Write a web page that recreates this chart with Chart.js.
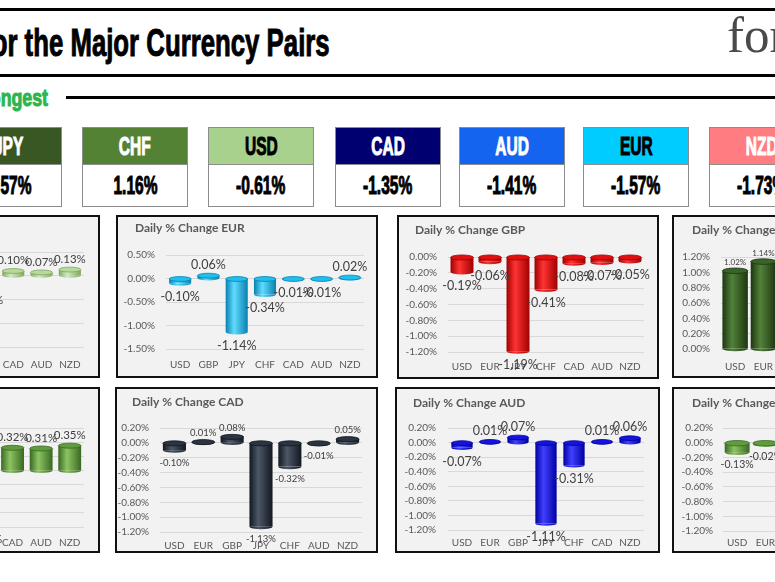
<!DOCTYPE html>
<html><head><meta charset="utf-8">
<script src="https://cdn.jsdelivr.net/npm/chart.js@4.4.1/dist/chart.umd.min.js"></script>
<style>
html,body{margin:0;padding:0;background:#fff;}
#page{position:relative;width:775px;height:582px;overflow:hidden;background:#fff;}
.abs{position:absolute;white-space:nowrap;}
.cond{font-family:"Liberation Sans",Arial,sans-serif;font-weight:bold;white-space:nowrap;-webkit-text-stroke:1px currentColor;}
.panel{position:absolute;box-sizing:border-box;border:2px solid #111;background:#f2f2f2;}
.panel canvas{position:absolute;left:0;top:0;}
.box{position:absolute;width:106px;}
.bh{box-sizing:border-box;height:38px;border:1px solid #8c8c8c;display:flex;align-items:center;justify-content:center;}
.bv{box-sizing:border-box;height:42px;border:1px solid #8c8c8c;border-top:none;background:#fff;display:flex;align-items:center;justify-content:center;color:#000;}
.sq{display:inline-block;transform:scaleX(0.62);font-size:25px;line-height:25px;}
</style></head>
<body><div id="page"></div>
<script>
// ---------- DATA ----------
const rankCurrencies = ['JPY','CHF','USD','CAD','AUD','EUR','NZD'];
const rankChanges = [1.57, 1.16, -0.61, -1.35, -1.41, -1.57, -1.73];

const usdPairs = ['EUR','GBP','JPY','CHF','CAD','AUD','NZD'];
const usdChange = [0.10, 0.19, -1.02, -0.24, 0.10, 0.07, 0.13];
const eurPairs = ['USD','GBP','JPY','CHF','CAD','AUD','NZD'];
const eurChange = [-0.10, 0.06, -1.14, -0.34, -0.01, -0.01, 0.02];
const gbpPairs = ['USD','EUR','JPY','CHF','CAD','AUD','NZD'];
const gbpChange = [-0.19, -0.06, -1.19, -0.41, -0.08, -0.07, -0.05];
const jpyPairs = ['USD','EUR','GBP','CHF','CAD','AUD','NZD'];
const jpyChange = [1.02, 1.14, 1.19, 0.78, 1.13, 1.11, 1.15];
const chfPairs = ['USD','EUR','GBP','JPY','CAD','AUD','NZD'];
const chfChange = [0.24, 0.34, 0.41, -0.78, 0.32, 0.31, 0.35];
const cadPairs = ['USD','EUR','GBP','JPY','CHF','AUD','NZD'];
const cadChange = [-0.10, 0.01, 0.08, -1.13, -0.32, -0.01, 0.05];
const audPairs = ['USD','EUR','GBP','JPY','CHF','CAD','NZD'];
const audChange = [-0.07, 0.01, 0.07, -1.11, -0.31, 0.01, 0.06];
const nzdPairs = ['USD','EUR','GBP','JPY','CHF','CAD','AUD'];
const nzdChange = [-0.13, -0.02, 0.05, -1.15, -0.35, -0.05, -0.06];

// y axis [min, max, step]
const usdAxis = [-1.5, 0.5, 0.5];
const eurAxis = [-1.5, 0.5, 0.5];
const gbpAxis = [-1.2, 0, 0.2];
const jpyAxis = [0, 1.2, 0.2];
const chfAxis = [-0.8, 0.6, 0.2];
const cadAxis = [-1.2, 0.2, 0.2];
const audAxis = [-1.2, 0.2, 0.2];
const nzdAxis = [-1.2, 0.2, 0.2];

// ---------- STYLES / LAYOUT ----------
const page = document.getElementById('page');
function addDiv(cls, css, html){const d=document.createElement('div');d.className=cls;Object.assign(d.style,css);if(html!==undefined)d.innerHTML=html;page.appendChild(d);return d;}

// header lines
addDiv('abs',{left:'0px',top:'8px',width:'775px',height:'3px',background:'#000'});
addDiv('abs',{left:'0px',top:'74px',width:'775px',height:'3px',background:'#000'});
addDiv('abs',{left:'66px',top:'96px',width:'709px',height:'3px',background:'#000'});

// title
const titleFull = 'Daily % Change for the Major Currency Pairs';
const titleVisible = 'or the Major Currency Pairs';
const mctx = document.createElement('canvas').getContext('2d');
mctx.font = 'bold 38px "Liberation Sans"';
const wVis = mctx.measureText(titleVisible).width, wFull = mctx.measureText(titleFull).width;
addDiv('abs cond',{top:'24px',fontSize:'38px',lineHeight:'38px',color:'#000',left:(330-wFull)+'px',width:wFull+'px',transformOrigin:'right center',transform:'scaleX('+(338/wVis)+')'}, titleFull);

// strongest label
mctx.font = 'bold 24px "Liberation Sans"';
const wS = mctx.measureText('Strongest').width;
addDiv('abs cond',{top:'86px',fontSize:'24px',lineHeight:'24px',color:'#2bb54e',left:(48-wS)+'px',width:wS+'px',transformOrigin:'right center',transform:'scaleX(0.74)'},'Strongest');

// logo
addDiv('abs',{left:'727px',top:'6px',fontFamily:'"Liberation Serif",serif',fontSize:'51px',lineHeight:'58px',color:'#4a4a4a'},'forexlive');

// rank boxes
const boxLeft = [-44, 82, 208, 335, 459, 583, 709];
const boxFill = ['#385723','#548235','#a9d18e','#000070','#1464f0','#00ccff','#ff7c80'];
const boxText = ['#fff','#fff','#000','#fff','#fff','#000','#fff'];
rankCurrencies.forEach((c,i)=>{
  const b = addDiv('box',{left:boxLeft[i]+'px',top:'127px'});
  b.innerHTML = '<div class="bh" style="background:'+boxFill[i]+';color:'+boxText[i]+'"><span class="sq cond">'+c+'</span></div>'+
                '<div class="bv"><span class="sq cond">'+rankChanges[i].toFixed(2)+'%</span></div>';
});

// bar colour schemes
const schemes = {
  lightgreen:{dark:'#7ea65f',light:'#d2eac0',top:'#b7d99d'},
  cyan:{dark:'#0880b0',light:'#5fdcff',top:'#1ec0ee'},
  red:{dark:'#a00000',light:'#ff3333',top:'#e01010'},
  darkgreen:{dark:'#1d3610',light:'#52813a',top:'#3a6327'},
  green:{dark:'#3a6822',light:'#8cc462',top:'#5f9c3d'},
  slate:{dark:'#121821',light:'#4d5766',top:'#2b3440'},
  blue:{dark:'#0000a0',light:'#4040ff',top:'#1414dc'}
};

const panels = [
 {title:'Daily % Change USD',labels:usdPairs,values:usdChange,axis:usdAxis,box:[-162,215,262,163],area:[-114,84,252,347],titleAt:[-143,229],yLabelRight:-124,xLabelY:363,scheme:'lightgreen',fs:11.5,bar:0.78},
 {title:'Daily % Change EUR',labels:eurPairs,values:eurChange,axis:eurAxis,box:[116,215,262,163],area:[166,364,255,349],titleAt:[135,228],yLabelRight:155,xLabelY:363,scheme:'cyan',fs:12.5,bar:0.78},
 {title:'Daily % Change GBP',labels:gbpPairs,values:gbpChange,axis:gbpAxis,box:[397,215,262,164],area:[448,644,257,352],titleAt:[415,230],yLabelRight:437,xLabelY:365,scheme:'red',fs:12.5,bar:0.82},
 {title:'Daily % Change JPY',labels:jpyPairs,values:jpyChange,axis:jpyAxis,box:[672,215,262,163],area:[721,919,257,349],titleAt:[692,230],yLabelRight:710,xLabelY:365,scheme:'darkgreen',fs:8,bar:0.9},
 {title:'Daily % Change CHF',labels:chfPairs,values:chfChange,axis:chfAxis,box:[-162,387,262,166],area:[-116,84,428,527],titleAt:[-143,402],yLabelRight:-126,xLabelY:541,scheme:'green',fs:11.5,bar:0.8},
 {title:'Daily % Change CAD',labels:cadPairs,values:cadChange,axis:cadAxis,box:[115,387,263,166],area:[160,362,428,532],titleAt:[132,402],yLabelRight:149,xLabelY:544,scheme:'slate',fs:9.5,bar:0.8},
 {title:'Daily % Change AUD',labels:audPairs,values:audChange,axis:audAxis,box:[395,387,265,166],area:[448,644,428,530],titleAt:[413,403],yLabelRight:436,xLabelY:541,scheme:'blue',fs:12.5,bar:0.76},
 {title:'Daily % Change NZD',labels:nzdPairs,values:nzdChange,axis:nzdAxis,box:[672,387,262,166],area:[723,921,428,531],titleAt:[692,403],yLabelRight:713,xLabelY:541,scheme:'green',fs:10.5,bar:0.88}
];

function grad(ctx, x0, w, c){
  if(!isFinite(x0) || !isFinite(w) || w <= 0) return c.dark;
  const g = ctx.createLinearGradient(x0,0,x0+w,0);
  g.addColorStop(0,c.dark); g.addColorStop(0.38,c.light); g.addColorStop(1,c.dark);
  return g;
}

// cylinder caps + value labels
const cylPlugin = {
  id:'cyl',
  afterDatasetsDraw(chart){
    const c = chart.options.plugins.cyl; const ctx = chart.ctx;
    const meta = chart.getDatasetMeta(0);
    const vals = chart.data.datasets[0].data;
    ctx.save();
    meta.data.forEach((el)=>{
      const w = el.width, x = el.x;
      if(!isFinite(w) || !isFinite(x)) return;
      const top = Math.min(el.y, el.base), bot = Math.max(el.y, el.base);
      const rx = w/2, ry = Math.max(2, w*0.11);
      ctx.beginPath(); ctx.ellipse(x, bot, rx, ry, 0, 0, Math.PI); ctx.closePath();
      ctx.fillStyle = grad(ctx, x-w/2, w, c); ctx.fill();
      ctx.beginPath(); ctx.ellipse(x, top, rx, ry, 0, 0, Math.PI*2);
      ctx.fillStyle = c.top; ctx.fill();
      ctx.lineWidth = 0.8; ctx.strokeStyle = c.dark; ctx.stroke();
    });
    ctx.font = c.fs + 'px Lato'; ctx.fillStyle = '#404040';
    ctx.textAlign = 'center'; ctx.textBaseline = 'middle';
    meta.data.forEach((el,i)=>{
      const v = vals[i];
      if(!isFinite(el.x) || !isFinite(el.y)) return;
      const off = v < 0 ? (c.fs*0.55 + 7) : -(c.fs*0.55 + 4);
      ctx.fillText(v.toFixed(2)+'%', el.x, el.y + off);
    });
    ctx.restore();
  }
};

// panel title drawn at a fixed spot in the panel
const panelTitle = {
  id:'ptitle',
  afterDraw(chart){
    const t = chart.options.plugins.ptitle; const ctx = chart.ctx;
    ctx.save();
    ctx.font = 'bold 12px Lato'; ctx.fillStyle = '#595959';
    ctx.textAlign = 'left'; ctx.textBaseline = 'middle';
    ctx.fillText(t.text, t.x, t.y);
    ctx.restore();
  }
};

Chart.defaults.font.family = 'Lato';

panels.forEach(p=>{
  const [bx,by,bw,bh] = p.box;
  const pd = addDiv('panel',{left:bx+'px',top:by+'px',width:bw+'px',height:bh+'px'});
  const ix = bx+2, iy = by+2, cw = bw-4, ch = bh-4;
  const cv = document.createElement('canvas');
  cv.width = cw; cv.height = ch; cv.style.width = cw+'px'; cv.style.height = ch+'px';
  pd.appendChild(cv);
  const [L,R,T,B] = p.area;
  const yW = L - ix;
  const padRight = ix + cw - R;
  const padTop = T - iy;
  const xH = iy + ch - B;
  const xPad = p.xLabelY - B - 12;
  const yPad = L - p.yLabelRight;
  const sc = schemes[p.scheme];
  new Chart(cv, {
    type:'bar',
    data:{labels:p.labels, datasets:[{data:p.values, categoryPercentage:p.bar, barPercentage:1, borderWidth:0,
      backgroundColor:(ctx)=>{
        const c = ctx.chart; const xs = c.scales && c.scales.x;
        if(!xs || ctx.dataIndex === undefined || !c.chartArea) return sc.dark;
        const w = xs.width / p.labels.length * p.bar;
        const x = xs.getPixelForValue(ctx.dataIndex);
        return grad(c.ctx, x-w/2, w, sc);
      }}]},
    options:{
      responsive:false, animation:false, devicePixelRatio:1,
      layout:{padding:{left:0, right:padRight, top:padTop, bottom:0}},
      plugins:{
        legend:{display:false}, tooltip:{enabled:false}, title:{display:false},
        ptitle:{text:p.title, x:p.titleAt[0]-ix, y:p.titleAt[1]-iy},
        cyl:{dark:sc.dark, light:sc.light, top:sc.top, fs:p.fs}
      },
      scales:{
        x:{type:'category', offset:true, grid:{display:false}, border:{display:false},
           ticks:{color:'#595959', font:{size:10}, padding:xPad, maxRotation:0, autoSkip:false},
           afterFit:(s)=>{s.height = xH;}},
        y:{type:'linear', min:p.axis[0], max:p.axis[1],
           ticks:{stepSize:p.axis[2], autoSkip:false, color:'#595959', font:{size:10}, padding:yPad,
                  callback:(v)=>Number(v).toFixed(2)+'%'},
           grid:{color:'#d9d9d9', drawTicks:false, lineWidth:1}, border:{display:false},
           afterFit:(s)=>{s.width = yW;}}
      }
    },
    plugins:[cylPlugin, panelTitle]
  });
});
</script>
</body></html>
